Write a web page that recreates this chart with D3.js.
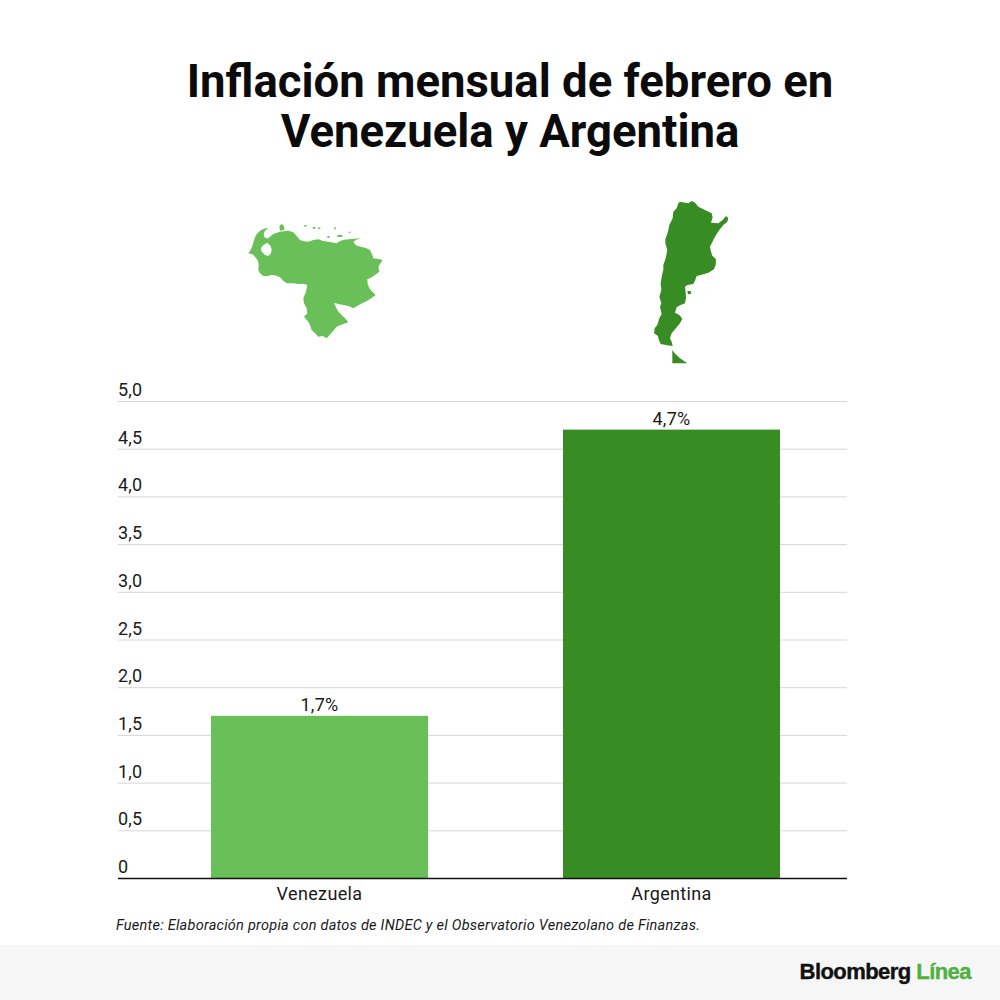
<!DOCTYPE html>
<html lang="es">
<head>
<meta charset="UTF-8" />
<title>Inflación mensual de febrero</title>
<script src="https://cdn.jsdelivr.net/npm/d3@7"></script>
<style>
  html, body { margin: 0; padding: 0; background: #fff; }
  svg { display: block; }
  text { font-family: Roboto, sans-serif; }
</style>
</head>
<body>
<svg id="chart" width="1000" height="1000"></svg>
<script>
const titleLines = ["Inflación mensual de febrero en", "Venezuela y Argentina"];
const categories = ["Venezuela", "Argentina"];
const values = [1.7, 4.7];
const valueLabels = ["1,7%", "4,7%"];
const barColors = ["#69c058", "#378d23"];
const yTicks = [0, 0.5, 1, 1.5, 2, 2.5, 3, 3.5, 4, 4.5, 5];
const yTickLabels = ["0", "0,5", "1,0", "1,5", "2,0", "2,5", "3,0", "3,5", "4,0", "4,5", "5,0"];
const source = "Fuente: Elaboración propia con datos de INDEC y el Observatorio Venezolano de Finanzas.";

// siluetas de los mapas, trazadas sobre la imagen (escala 3x)
const venezuelaShape = "M55,190L62,180 68,165 72,150 78,135 90,122 102,116 115,113 105,122 101,132 103,141 112,146 120,140 130,132 150,125 175,122 190,127 200,138 210,150 222,154 235,155 250,150 265,148 280,153 295,155 320,160 330,153 342,149 365,147 392,145 378,150 370,156 378,166 392,170 408,174 420,180 426,192 430,205 445,207 458,210 450,222 445,232 448,245 436,254 425,262 412,268 413,282 420,298 437,315 425,324 412,332 392,342 370,355 355,348 340,345 325,342 312,338 318,352 325,365 335,375 345,385 355,397 338,403 320,410 305,428 290,445 278,438 265,440 255,430 245,420 240,405 235,395 222,380 232,370 230,355 222,340 220,325 228,305 232,285 220,281 205,282 190,280 170,280 160,272 150,262 135,256 125,255 112,258 100,258 90,250 85,240 86,225 84,212 75,200 68,193Z"
  + "M112,158L122,168 125,180 122,192 114,198 104,194 94,183 93,174 100,165Z"
  + "M148,108L155,102 162,108 163,120 150,122Z"
  + "M222,105l8,1 0,4-8,-1ZM248,111l8,0 0,5-8,0ZM264,112l7,1 0,4-6,0ZM312,111l6,2 0,5-4,0ZM292,138l7,0 0,5-7,0ZM322,135l14,-1 3,6-17,1ZM356,125l5,0 0,4-5,0Z";
const argentinaShape = "M150,35L165,38 175,40 185,33 195,38 205,50 225,60 245,70 248,82 243,98 265,100 278,90 288,78 295,85 292,95 280,105 268,120 258,135 250,150 240,170 243,185 247,197 258,208 257,225 252,238 235,248 215,254 200,258 195,272 190,282 172,285 165,290 167,305 168,325 165,340 150,346 140,352 135,368 148,375 157,386 150,400 140,412 125,430 120,445 125,455 128,468 112,466 92,462 86,448 84,438 72,430 74,415 82,405 88,385 95,372 90,350 94,340 88,320 94,300 92,280 96,255 100,240 100,225 107,205 112,180 106,160 106,148 114,125 118,105 128,85 130,65 140,55 145,40Z"
  + "M127,480L136,492 150,505 172,520 127,520Z"
  + "M172,303l10,0 2,8-10,2Z";

const svg = d3.select("#chart");

const x = d3.scaleBand().domain(categories).range([143.5, 847.5]).paddingInner(0.3835).paddingOuter(0.19175);
const y = d3.scaleLinear().domain([0, 5]).range([878, 401]);

svg.append("rect").attr("x", 0).attr("y", 945).attr("width", 1000).attr("height", 55).attr("fill", "#f6f6f6");

svg.append("g").selectAll("text")
  .data(titleLines)
  .join("text")
  .attr("x", 510)
  .attr("y", (d, i) => 97 + i * 50)
  .attr("text-anchor", "middle")
  .attr("font-size", 45.5)
  .attr("font-weight", 700)
  .attr("fill", "#0b0b0b")
  .text(d => d);

svg.append("path").attr("transform", "translate(230,190) scale(0.3333)")
  .attr("fill-rule", "evenodd").attr("fill", barColors[0]).attr("d", venezuelaShape);
svg.append("path").attr("transform", "translate(630,190) scale(0.3333)")
  .attr("fill", barColors[1]).attr("d", argentinaShape);

// eje y: lineas de rejilla y etiquetas encima de cada linea
const yAxis = d3.axisRight(y)
  .tickValues(yTicks)
  .tickSize(729)
  .tickFormat((d, i) => yTickLabels[i]);

const gy = svg.append("g").attr("transform", "translate(118,0)").call(yAxis);
gy.select(".domain").remove();
gy.selectAll(".tick line").attr("stroke", "#d6d6d6").attr("stroke-width", 1);
gy.selectAll(".tick text")
  .attr("x", 0).attr("dy", 0).attr("y", -5.5)
  .attr("text-anchor", "start")
  .attr("font-size", 18)
  .attr("letter-spacing", 0.2)
  .attr("font-family", "Roboto, sans-serif")
  .attr("fill", "#1a1a1a");

svg.append("g").selectAll("rect")
  .data(values)
  .join("rect")
  .attr("x", (d, i) => x(categories[i]))
  .attr("y", d => y(d))
  .attr("width", x.bandwidth())
  .attr("height", d => y(0) - y(d))
  .attr("fill", (d, i) => barColors[i]);

svg.append("g").selectAll("text")
  .data(values)
  .join("text")
  .attr("x", (d, i) => x(categories[i]) + x.bandwidth() / 2)
  .attr("y", d => y(d) - 5)
  .attr("text-anchor", "middle")
  .attr("font-size", 18)
  .attr("letter-spacing", 0.3)
  .attr("fill", "#1a1a1a")
  .text((d, i) => valueLabels[i]);

// eje x
const xAxis = d3.axisBottom(x).tickSize(0).tickPadding(9);
const gx = svg.append("g").attr("transform", "translate(0,878.5)").call(xAxis);
gx.select(".domain").remove();
gx.append("line").attr("x1", 118).attr("x2", 847).attr("stroke", "#111").attr("stroke-width", 1.5);
gx.selectAll(".tick text")
  .attr("font-size", 18)
  .attr("letter-spacing", 0.35)
  .attr("font-family", "Roboto, sans-serif")
  .attr("fill", "#1a1a1a");

svg.append("text")
  .attr("x", 116)
  .attr("y", 930)
  .attr("font-size", 14.5)
  .attr("letter-spacing", 0.25)
  .attr("font-style", "italic")
  .attr("fill", "#1a1a1a")
  .text(source);

const logo = svg.append("text")
  .attr("x", 971)
  .attr("y", 979)
  .attr("text-anchor", "end")
  .attr("font-size", 22)
  .attr("font-weight", 700)
  .attr("letter-spacing", -0.55)
  .attr("stroke-width", 0.4)
  .style("font-family", "'Liberation Sans', sans-serif");
logo.append("tspan").attr("fill", "#111").attr("stroke", "#111").text("Bloomberg ");
logo.append("tspan").attr("fill", "#4fb03f").attr("stroke", "#4fb03f").text("Línea");
</script>
</body>
</html>
